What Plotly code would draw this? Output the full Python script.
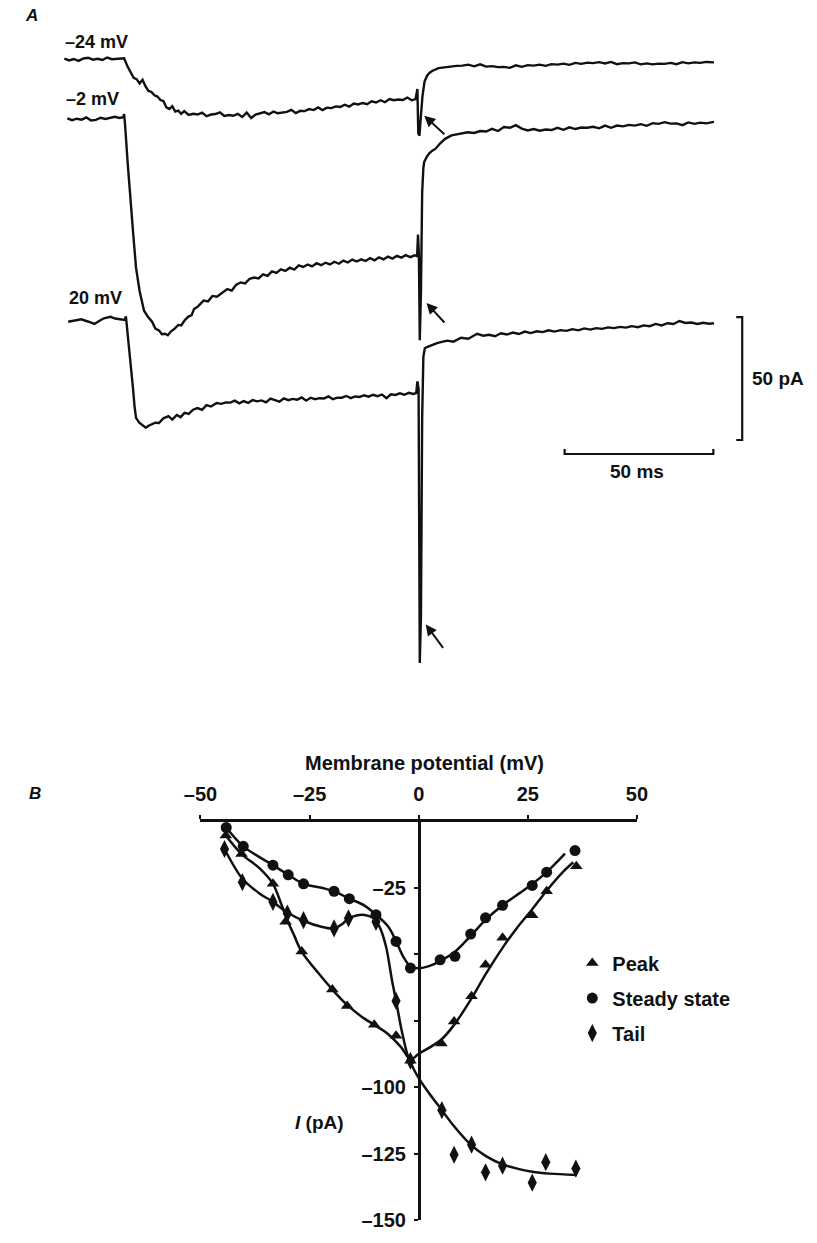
import plotly.graph_objects as go

W, H = 817, 1243
FONT = "Liberation Sans, Arial, Helvetica, sans-serif"
INK = "#111111"


def px(x):
    return x / W


def py(y):
    return 1 - y / H


# ---------------- Panel A: membrane currents (t in ms from step onset, I in pA) ----------------
STEP_LABELS = ["–24 mV", "–2 mV", "20 mV"]

t_m24 = [-19.8, -18.2, -16.6, -15.0, -13.4, -11.8, -10.2, -8.6, -7.0, -5.4, -3.8, -2.2, -0.6, 0.0,
         0.3, 1.5, 2.5, 3.5, 4.5, 5.5, 6.5, 7.5, 8.5, 9.5, 10.5, 11.5, 12.5, 13.5, 14.5, 15.5, 16.5,
         17.5, 18.5, 19.5, 20.5, 22.0, 23.5, 25.0, 26.5, 28.0, 29.5, 31.0, 32.5, 34.0, 35.5, 37.0,
         38.5, 40.0, 41.5, 43.0, 44.5, 46.0, 47.5, 49.0, 50.5, 52.0, 53.5, 55.0, 56.5, 58.0, 59.5,
         61.0, 62.5, 64.0, 65.5, 67.0, 68.5, 70.0, 71.5, 73.0, 74.5, 76.0, 77.5, 79.0, 80.5, 82.0,
         83.5, 85.0, 86.5, 88.0, 89.5, 91.0, 92.5, 94.0, 95.5, 97.0, 98.3,
         98.9, 99.2, 99.6, 100.0, 100.6, 101.3, 102.2, 103.0,
         104, 106, 108, 110, 112, 114, 116, 118, 120, 122, 124, 126, 128, 130, 132, 134, 136, 138,
         140, 142, 144, 146, 148, 150, 152, 154, 156, 158, 160, 162, 164, 166, 168, 170, 172, 174,
         176, 178, 180, 182, 184, 186, 188, 190, 192, 194, 196, 198.6]
i_m24 = [0.3, -0.4, 0.2, -0.6, 0.4, 0.7, -0.1, 0.3, -0.2, 0.8, 0.1, 0.2, 0.6, 0.4,
         0.5, -3.0, -5.0, -7.5, -8.0, -9.8, -8.3, -11.0, -12.8, -13.2, -14.6, -15.1, -16.5, -16.9,
         -19.5, -20.2, -19.0, -21.2, -20.8, -22.1, -21.0, -22.6, -22.1, -22.4, -21.6, -23.1, -22.4,
         -22.2, -21.5, -23.0, -22.6, -22.9, -22.1, -23.4, -21.6, -23.8, -22.4, -22.0, -21.4, -22.3,
         -21.2, -21.9, -21.6, -21.3, -20.5, -21.8, -20.9, -21.0, -20.2, -20.6, -19.5, -20.6, -19.6,
         -19.8, -19.1, -19.3, -18.4, -19.2, -17.9, -18.3, -17.7, -18.2, -17.0, -17.5, -16.6, -17.4,
         -16.1, -16.6, -16.3, -16.5, -15.5, -16.6, -16.1,
         -12.0, -30.0, -31.0, -24.0, -15.0, -9.0, -6.5, -5.4,
         -4.6, -3.5, -3.1, -2.9, -2.6, -2.5, -2.1, -2.8, -2.0, -2.9, -2.7, -3.1, -3.0, -3.4, -2.4,
         -3.0, -2.3, -2.5, -2.1, -2.6, -1.9, -2.1, -1.7, -2.2, -1.4, -1.8, -1.3, -1.5, -1.1, -1.6,
         -1.0, -1.9, -1.5, -1.6, -1.2, -2.0, -1.6, -2.0, -1.7, -1.8, -1.4, -1.9, -1.1, -1.6, -1.2,
         -1.4, -1.0, -1.2]

t_m2 = [-18.8, -17.2, -15.6, -14.0, -12.4, -10.8, -9.2, -7.6, -6.0, -4.4, -2.8, -1.2, 0.0,
        0.3, 0.6, 1.5, 2.3, 3.3, 4.3, 5.5, 7.0, 8.3, 9.7, 10.8, 12.0, 13.0, 14.1, 15.0, 16.0, 17.3,
        18.5, 19.5, 20.6, 21.8, 23.0, 23.8, 25.0, 26.0, 27.0, 28.5, 30.0, 31.5, 33.5, 35.0, 36.5,
        38.0, 39.5, 41.0, 42.5, 44.0, 45.5, 47.0, 48.5, 50.0, 51.5, 53.0, 54.5, 56.0, 57.5, 59.0,
        60.5, 62.0, 63.5, 65.0, 66.5, 68.0, 69.5, 71.0, 72.5, 74.0, 75.5, 77.0, 78.5, 80.0, 81.5,
        83.0, 84.5, 86.0, 87.5, 89.0, 90.5, 92.0, 93.5, 95.0, 96.5, 98.0, 98.8,
        99.1, 99.4, 99.7, 100.1, 100.5, 100.9, 101.2, 102.0, 102.8, 103.8, 105.0, 106.5, 108.2,
        110.4, 113.0, 115.8,
        118, 120, 122, 124, 126, 128, 130, 132, 134, 136, 138, 140, 142, 144, 146, 148, 150, 152,
        154, 156, 158, 160, 162, 164, 166, 168, 170, 172, 174, 176, 178, 180, 182, 184, 186, 188,
        190, 192, 194, 196, 198.6]
i_m2 = [0.2, -0.5, 0.1, -0.3, 0.6, -0.6, -0.4, 0.5, 0.0, 0.3, 0.9, 0.4, 0.7,
        2.0, -2.0, -18.0, -32.0, -46.0, -60.5, -70.0, -78.0, -80.5, -82.5, -85.3, -86.0, -87.6,
        -87.4, -88.0, -86.5, -85.3, -83.8, -84.0, -82.0, -80.5, -79.8, -77.3, -76.4, -75.2, -73.9,
        -74.2, -72.0, -72.3, -70.6, -69.2, -69.8, -67.4, -66.5, -66.9, -65.0, -64.5, -64.9, -63.2,
        -63.8, -62.0, -62.6, -61.2, -61.8, -60.5, -61.3, -59.6, -60.2, -59.2, -60.0, -58.7, -59.5,
        -58.5, -59.2, -58.1, -58.9, -57.6, -58.4, -57.2, -58.0, -57.1, -57.8, -56.6, -57.5, -56.3,
        -57.1, -56.0, -56.8, -55.7, -56.4, -55.4, -56.2, -55.5, -55.8,
        -47.0, -55.0, -90.0, -70.0, -30.0, -20.0, -17.5, -15.5, -14.1, -13.0, -12.1, -10.0, -8.1,
        -6.7, -6.0, -5.4,
        -5.7, -4.9, -5.1, -4.0, -4.9, -3.3, -3.6, -2.5, -3.9, -4.7, -4.1, -4.8, -4.3, -4.5, -3.6,
        -4.4, -3.4, -4.1, -3.5, -3.6, -3.2, -3.8, -2.7, -3.6, -2.7, -3.0, -2.4, -2.7, -2.1, -2.8,
        -1.7, -2.0, -1.3, -1.9, -1.8, -2.5, -1.4, -2.0, -1.5, -1.8, -1.2]

t_p20 = [-18.5, -16.3, -14.1, -11.9, -9.7, -8.1, -6.5, -4.3, -2.7, -1.1, 0.5,
         0.9, 1.2, 2.0, 2.7, 3.3, 3.8, 4.3, 5.4, 6.5, 7.6, 8.5, 9.5, 10.8, 12.0, 13.5, 15.2, 16.5,
         18.0, 19.3, 20.6, 22.0, 23.5, 24.9, 26.5, 28.0, 29.5, 31.4, 33.0, 34.5, 36.0, 37.5, 39.0,
         40.5, 42.0, 43.5, 45.0, 46.5, 48.0, 49.5, 51.0, 52.5, 54.0, 55.5, 57.0, 58.5, 60.0, 61.5,
         63.0, 64.5, 66.0, 67.5, 69.0, 70.5, 72.0, 73.5, 75.0, 76.5, 78.0, 79.5, 81.0, 82.5, 84.0,
         85.5, 87.0, 88.5, 90.0, 91.5, 93.0, 94.5, 96.0, 97.5, 98.5,
         98.9, 99.3, 99.7, 100.1, 100.5, 100.9, 101.4,
         102.3, 104, 105.5, 107.1, 109, 111, 113.6, 116, 119, 121, 123, 125, 127, 129, 131, 133,
         135, 137, 139, 141, 143, 145, 147, 149, 151, 153, 155, 157, 159, 161, 163, 165, 167, 169,
         171, 173, 175, 177, 179, 181, 183, 185, 187, 189, 191, 193, 195, 197, 198.6]
i_p20 = [-0.7, -0.1, 0.3, -0.6, -1.6, -0.4, 0.7, 1.3, 0.6, 0.3, 0.0,
         1.5, -2.0, -10.0, -19.0, -28.0, -35.0, -39.8, -41.8, -43.0, -43.8, -43.0, -42.5, -41.8,
         -41.9, -40.0, -39.1, -40.5, -38.6, -39.5, -37.8, -38.2, -36.5, -35.8, -36.5, -34.6, -35.2,
         -33.8, -34.1, -33.5, -33.6, -32.8, -33.9, -33.0, -33.7, -32.6, -33.1, -32.7, -33.5, -32.0,
         -32.6, -33.2, -31.9, -32.6, -32.1, -32.4, -31.5, -32.8, -31.6, -32.2, -31.8, -31.9, -31.1,
         -32.2, -31.6, -31.6, -30.9, -31.8, -31.1, -31.3, -30.6, -31.2, -30.4, -31.0, -30.3, -31.8,
         -30.2, -30.5, -29.8, -30.4, -29.6, -30.1, -29.7,
         -25.0, -28.0, -139.5, -120.0, -40.0, -15.0, -11.5,
         -10.9, -10.0, -9.4, -8.9, -8.4, -8.8, -7.2, -7.6, -5.6, -6.4, -6.0, -6.6, -5.4, -5.9, -5.1,
         -5.7, -4.7, -5.3, -4.6, -4.9, -4.2, -4.7, -4.1, -4.4, -3.7, -4.2, -3.4, -3.9, -3.3, -3.6,
         -3.0, -3.3, -2.8, -3.1, -2.5, -2.9, -2.2, -2.5, -1.6, -2.2, -1.3, -1.6, -0.4, -1.2, -1.0,
         -1.6, -1.1, -1.5, -1.3]

# vertical stacking of the three records (pA shift applied for display only)
STACK_SHIFT = [0.0, -24.2, -106.0]

# calibration bars
SCALE_T_MS = 50
SCALE_I_PA = 50

# ---------------- Panel B: current-voltage relations ----------------
v_peak = [-44.2, -40.6, -33.4, -30.5, -26.8, -19.8, -16.4, -10.2, -5.2, -1.9, 5.2, 8.1, 12.1,
          15.3, 19.2, 26.0, 29.3, 36.1]
i_peak = [-5.2, -12.2, -23.4, -37.7, -48.9, -63.2, -69.4, -76.5, -80.6, -90.0, -83.5, -75.2,
          -65.7, -53.9, -43.7, -35.2, -26.2, -16.8]

v_ss = [-44.1, -40.2, -33.4, -29.9, -26.4, -19.4, -15.9, -9.8, -5.2, -1.9, 4.9, 8.3, 11.9, 15.3,
        19.2, 26.0, 29.3, 35.8]
i_ss = [-2.2, -9.3, -16.4, -20.0, -23.4, -26.2, -29.0, -35.0, -45.1, -55.1, -52.0, -50.7, -42.3,
        -36.2, -31.5, -24.0, -19.0, -10.9]

v_tail = [-44.5, -40.4, -33.4, -30.1, -26.4, -19.4, -16.1, -9.8, -5.2, -1.9, 5.3, 8.1, 12.1,
          15.3, 19.2, 26.0, 29.1, 36.0]
i_tail = [-10.3, -22.8, -30.2, -34.6, -37.1, -40.2, -36.4, -37.7, -67.5, -90.0, -108.6, -125.4,
          -121.6, -132.0, -129.5, -135.9, -128.2, -130.6]

# hand-fitted smooth curves
fit_peak_v = [-44.2, -40.6, -36.5, -33.4, -31.5, -30.0, -28.5, -26.8, -23.0, -19.8, -16.4, -13.0,
              -10.2, -7.0, -4.0, -1.9, 0.0, 3.0, 5.2, 8.1, 12.1, 15.3, 19.2, 22.5, 26.0, 29.3,
              33.0, 35.4]
fit_peak_i = [-5.2, -12.2, -17.5, -23.4, -31.0, -37.5, -43.0, -49.0, -57.0, -63.2, -69.0, -73.5,
              -76.5, -80.0, -85.0, -89.5, -87.4, -84.5, -82.0, -76.5, -66.5, -57.5, -47.5, -40.0,
              -33.0, -26.0, -19.0, -15.3]

fit_ss_v = [-44.1, -40.2, -33.4, -29.9, -26.4, -22.0, -19.4, -15.9, -12.5, -9.8, -7.0, -5.2, -3.5,
            -1.9, 0.0, 2.5, 4.9, 8.3, 11.9, 15.3, 19.2, 23.0, 26.0, 29.3, 33.5]
fit_ss_i = [-2.2, -9.3, -16.4, -20.0, -23.4, -25.0, -26.2, -29.0, -31.5, -35.0, -39.5, -45.0,
            -51.0, -54.5, -55.2, -54.3, -52.5, -49.0, -43.0, -37.0, -31.5, -27.0, -23.5, -19.0,
            -12.0]

fit_tail_v = [-44.5, -40.4, -36.5, -33.4, -30.1, -26.4, -22.5, -19.4, -17.5, -16.1, -14.0, -12.4,
              -10.5, -9.0, -7.5, -6.1, -5.2, -3.9, -2.4, -1.2, 0.1, 2.5, 5.3, 8.0, 11.9, 15.3,
              19.2, 23.0, 26.0, 30.0, 36.1]
fit_tail_i = [-10.3, -21.5, -27.0, -30.2, -34.2, -37.3, -39.5, -40.2, -38.5, -36.4, -35.2, -35.1,
              -36.2, -39.5, -47.0, -60.0, -67.4, -78.7, -88.7, -93.0, -96.8, -102.5, -108.6,
              -114.5, -121.6, -125.8, -129.0, -130.8, -131.8, -132.5, -133.0]

x_ticks = [-50, -25, 0, 25, 50]
x_ticktext = ["–50", "–25", "0", "25", "50"]
y_ticks = [-150, -125, -100, -75, -50, -25]
y_ticktext = ["–150", "–125", "–100", "", "", "–25"]

fig = go.Figure()

# ---- panel A traces
for t, i, shift in zip([t_m24, t_m2, t_p20], [i_m24, i_m2, i_p20], STACK_SHIFT):
    fig.add_trace(go.Scatter(
        x=t, y=[v + shift for v in i], mode="lines",
        line=dict(color=INK, width=2.4), showlegend=False, hoverinfo="skip",
        xaxis="x", yaxis="y"))

# calibration bars (50 ms, 50 pA)
bar_t0, bar_y = 148.4, -160.5
fig.add_trace(go.Scatter(
    x=[bar_t0, bar_t0, bar_t0 + SCALE_T_MS, bar_t0 + SCALE_T_MS],
    y=[bar_y + 2, bar_y, bar_y, bar_y + 2], mode="lines",
    line=dict(color=INK, width=2.2), showlegend=False, hoverinfo="skip", xaxis="x", yaxis="y"))
bar_t1, bar_top = 208.1, -104.8
fig.add_trace(go.Scatter(
    x=[bar_t1 - 2, bar_t1, bar_t1, bar_t1 - 2],
    y=[bar_top, bar_top, bar_top - SCALE_I_PA, bar_top - SCALE_I_PA], mode="lines",
    line=dict(color=INK, width=2.2), showlegend=False, hoverinfo="skip", xaxis="x", yaxis="y"))

# ---- panel B fitted curves
for fv, fi in [(fit_peak_v, fit_peak_i), (fit_ss_v, fit_ss_i), (fit_tail_v, fit_tail_i)]:
    fig.add_trace(go.Scatter(
        x=fv, y=fi, mode="lines", line=dict(color=INK, width=2.5, shape="spline", smoothing=0.9),
        showlegend=False, hoverinfo="skip", xaxis="x2", yaxis="y2", cliponaxis=False))

# ---- panel B measured points
for name, v, i, sym, size in [("Peak", v_peak, i_peak, "triangle-up", 11),
                               ("Steady state", v_ss, i_ss, "circle", 11),
                               ("Tail", v_tail, i_tail, "diamond-tall", 13)]:
    fig.add_trace(go.Scatter(
        x=v, y=i, mode="markers", name=name, legendgroup=name,
        marker=dict(symbol=sym, size=size, color=INK, line=dict(width=0)),
        xaxis="x2", yaxis="y2", cliponaxis=False))

txt = dict(family=FONT, size=18, color=INK, weight="bold")
txtB = dict(family=FONT, size=20, color=INK, weight="bold")

annotations = []
# step potentials
for label, (x0, y0) in zip(STEP_LABELS, [(48, 42), (49, 100), (52, 301)]):
    annotations.append(dict(x=px(x0), y=py(y0), xref="paper", yref="paper", text=label,
                            showarrow=False, xanchor="left", yanchor="middle", font=txt))
# arrows marking tail currents
for (hx, hy), (dx, dy) in [((421.7, 116.7), (21.6, 20)), ((424, 305.7), (19.3, 21)),
                           ((423.3, 630), (18.4, 25))]:
    annotations.append(dict(x=px(hx), y=py(hy), xref="paper", yref="paper", text="",
                            showarrow=True, arrowhead=2, arrowsize=1.1, arrowwidth=2,
                            arrowcolor=INK, ax=dx, ay=dy, standoff=0))
annotations += [
    dict(x=px(759), y=py(382), xref="paper", yref="paper", text="50 pA", showarrow=False,
         xanchor="left", yanchor="middle", font=dict(txt, size=19)),
    dict(x=px(642), y=py(476), xref="paper", yref="paper", text="50 ms", showarrow=False,
         xanchor="center", yanchor="middle", font=dict(txt, size=19)),
    dict(x=px(14.5), y=py(15.5), xref="paper", yref="paper", text="<i>A</i>", showarrow=False,
         xanchor="center", yanchor="middle", font=dict(txt, size=17)),
    dict(x=px(18.5), y=py(801), xref="paper", yref="paper", text="<i>B</i>", showarrow=False,
         xanchor="center", yanchor="middle", font=dict(txt, size=17)),
    dict(x=px(421.5), y=py(770), xref="paper", yref="paper", text="Membrane potential (mV)",
         showarrow=False, xanchor="center", yanchor="middle", font=txtB),
    dict(x=px(313), y=py(1133), xref="paper", yref="paper", text="<i>I</i> (pA)",
         showarrow=False, xanchor="center", yanchor="middle", font=dict(txtB, size=19)),
]

axis_common = dict(showgrid=False, zeroline=False, tickcolor=INK, tickwidth=2.4, ticklen=4)
fig.update_layout(
    width=W, height=H, margin=dict(l=0, r=0, t=0, b=0),
    paper_bgcolor="white", plot_bgcolor="rgba(0,0,0,0)",
    font=dict(family=FONT, color=INK),
    xaxis=dict(domain=[0, 1], range=[-110 / 3.08, (W - 110) / 3.08], visible=False,
               fixedrange=True),
    yaxis=dict(domain=[0, 1], range=[(60 - H) / 2.48, 60 / 2.48], visible=False,
               fixedrange=True),
    xaxis2=dict(domain=[px(190), px(642)], range=[-50, 50], anchor="y2", side="top",
                showline=True, linewidth=2.6, linecolor=INK, ticks="outside",
                tickvals=x_ticks, ticktext=x_ticktext, tickfont=txtB, ticklabelstandoff=6,
                **axis_common),
    yaxis2=dict(domain=[py(1231), py(829)], range=[-150, 0], anchor="free", position=px(416),
                showline=True, linewidth=2.6, linecolor=INK, ticks="outside",
                tickvals=y_ticks, ticktext=y_ticktext, tickfont=txtB, ticklabelstandoff=4,
                **axis_common),
    # companion axes carrying the inner half of the tick marks
    xaxis3=dict(domain=[px(190), px(642)], range=[-50, 50], anchor="y2", side="top",
                overlaying="x2", showline=False, ticks="inside", tickvals=x_ticks,
                showticklabels=False, **axis_common),
    yaxis3=dict(domain=[py(1231), py(829)], range=[-150, 0], anchor="free", position=px(416),
                overlaying="y2", showline=False, ticks="inside", tickvals=y_ticks,
                showticklabels=False, **axis_common),
    legend=dict(x=px(575), y=py(952), xanchor="left", yanchor="top", bgcolor="rgba(0,0,0,0)",
                font=txtB, tracegroupgap=6, itemwidth=30),
    annotations=annotations,
    showlegend=True,
)

fig.write_html("out.html")
